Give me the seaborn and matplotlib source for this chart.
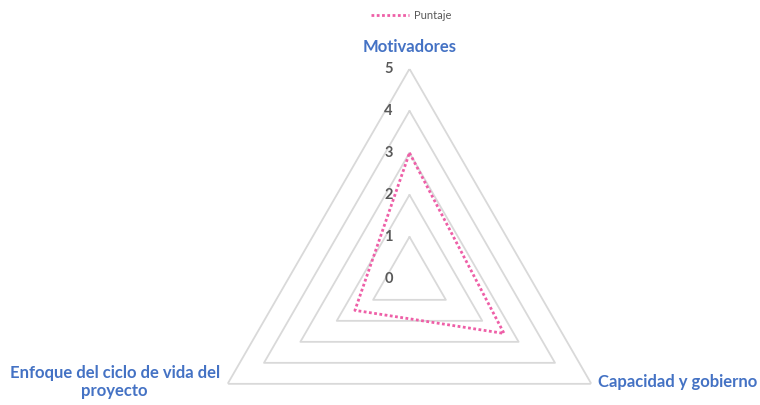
import numpy as np
import pandas as pd
import matplotlib
matplotlib.use('Agg')
import matplotlib.pyplot as plt
import seaborn as sns

# datos del gráfico radar
categorias = ['Motivadores', 'Capacidad y gobierno', 'Enfoque del ciclo de vida del\nproyecto']
puntaje = [3, 2.6, 1.5]
niveles = [0, 1, 2, 3, 4, 5]

sns.set_theme(style='white')
plt.rcParams['font.family'] = ['Lato', 'DejaVu Sans']

n = len(categorias)
angulos = np.linspace(0, 2 * np.pi, n, endpoint=False)
ang_cerrado = np.append(angulos, angulos[0])

df = pd.DataFrame({'theta': ang_cerrado, 'valor': puntaje + puntaje[:1]})

fig = plt.figure(figsize=(7.6, 4.05), dpi=100)
ax = fig.add_axes([0.2625, -0.207, 0.5526, 1.037], projection='polar')
ax.set_theta_offset(np.pi / 2)
ax.set_theta_direction(-1)
ax.set_ylim(0, max(niveles))
ax.grid(False)
ax.spines['polar'].set_visible(False)
ax.set_xticks([])
ax.set_yticks([])
ax.patch.set_alpha(0)

# rejilla triangular
for nv in niveles[1:]:
    ax.plot(ang_cerrado, [nv] * len(ang_cerrado), color='#D9D9D9', lw=1.3, zorder=1)

# etiquetas del eje radial
for nv in niveles:
    ax.annotate(str(nv), xy=(0, nv), xytext=(-21, 0), textcoords='offset pixels',
                ha='center', va='center', fontsize=10.5, fontweight='bold', color='#595959')

# serie (estimator=None para no promediar el punto de cierre)
sns.lineplot(data=df, x='theta', y='valor', sort=False, estimator=None,
             ax=ax, color='#EE5FA7', lw=2.0, label='Puntaje', zorder=3)
ax.lines[-1].set_dashes((1, 0.9))
ax.set_xlabel('')
ax.set_ylabel('')

# etiquetas de categorías
ax.annotate(categorias[0], xy=(angulos[0], 5), xytext=(0, 22), textcoords='offset pixels',
            ha='center', va='center', fontsize=12, fontweight='bold', color='#4472C4')
ax.annotate(categorias[1], xy=(angulos[1], 5), xytext=(7, 2), textcoords='offset pixels',
            ha='left', va='center', fontsize=12, fontweight='bold', color='#4472C4')
ax.annotate(categorias[2], xy=(angulos[2], 5), xytext=(-8, 2), textcoords='offset pixels',
            ha='right', va='center', multialignment='center', fontsize=12,
            fontweight='bold', color='#4472C4', linespacing=1.2)

leg = ax.legend(loc='upper center', bbox_to_anchor=(0.541, 1.0), bbox_transform=fig.transFigure,
                frameon=False, fontsize=8, handlelength=3.4, handletextpad=0.5)
for t in leg.get_texts():
    t.set_color('#595959')

fig.savefig('out.png', dpi=100)
